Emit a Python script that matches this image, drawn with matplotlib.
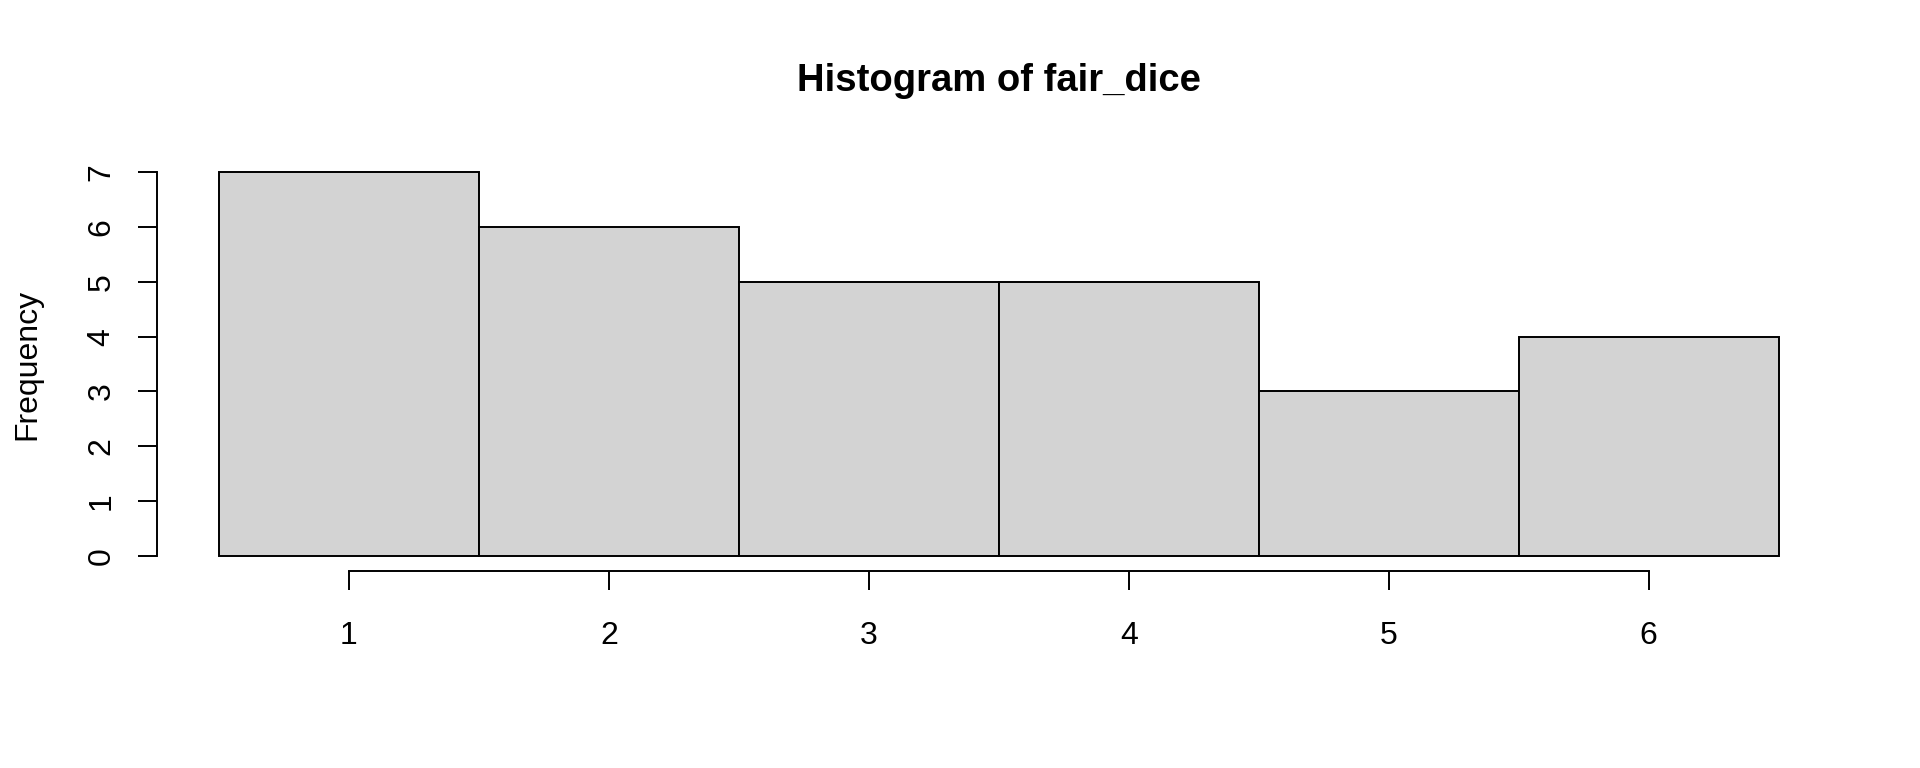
import matplotlib
matplotlib.use("Agg")
import matplotlib.pyplot as plt

# counts of each face from the dice rolls
faces = [1, 2, 3, 4, 5, 6]
counts = [7, 6, 5, 5, 3, 4]
y_ticks = [0, 1, 2, 3, 4, 5, 6, 7]

plt.rcParams['font.family'] = ['Liberation Sans', 'DejaVu Sans']

W, H = 1920, 768
fig = plt.figure(figsize=(W / 100, H / 100), dpi=100)

# plot region (R style: axis range padded by 4%)
left, right, top, bottom = 156.6, 1841, 157, 571
ax = fig.add_axes([left / W, 1 - bottom / H, (right - left) / W, (bottom - top) / H])

lw = 1.4
ax.bar(faces, counts, width=1.0, color='#D3D3D3', edgecolor='black', linewidth=lw)

ax.set_xlim(0.26, 6.74)
ax.set_ylim(-0.28, 7.28)

for s in ['top', 'right']:
    ax.spines[s].set_visible(False)
ax.spines['left'].set_bounds(0, 7)
ax.spines['bottom'].set_bounds(1, 6)
ax.spines['left'].set_linewidth(lw)
ax.spines['bottom'].set_linewidth(lw)

ax.set_xticks(faces)
ax.set_xticklabels([str(f) for f in faces])
ax.set_yticks(y_ticks)
ax.set_yticklabels([str(t) for t in y_ticks], rotation=90, va='center')

ax.tick_params(axis='x', direction='out', length=13.7, width=lw, pad=22, labelsize=23)
ax.tick_params(axis='y', direction='out', length=13.7, width=lw, pad=15, labelsize=23)

fig.text(27 / W, 1 - 364 / H, 'Frequency', rotation=90, ha='center', va='center', fontsize=23)
fig.text(999 / W, 1 - 81 / H, 'Histogram of fair_dice', ha='center', va='center',
         fontsize=27.5, fontweight='bold')

plt.savefig('out.png', dpi=100)
